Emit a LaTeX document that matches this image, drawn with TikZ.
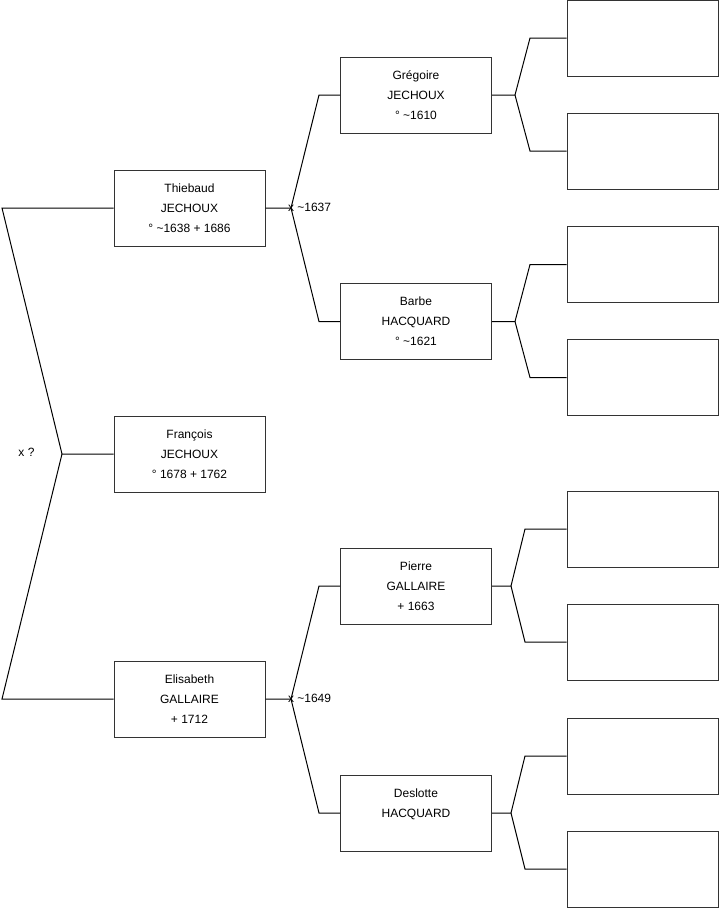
\documentclass[tikz,border=0pt]{standalone}
\usepackage{fontspec}
\setmainfont{Liberation Sans}
\begin{document}
\begin{tikzpicture}[x=0.75pt,y=-0.75pt,
  person/.style={draw=black!80, line width=0.75pt, fill=white,
    minimum width=113.25pt, minimum height=57pt, inner sep=0pt,
    align=center, font=\fontsize{9}{15}\selectfont},
  conn/.style={draw=black, line width=0.75pt},
  lbl/.style={inner sep=0pt, font=\fontsize{9}{11}\selectfont}]
\useasboundingbox (0,0) rectangle (719,908);

% generation 1-2
\node[person] (t) at (189.5,208) {Thiebaud\\JECHOUX\\° \textasciitilde1638 + 1686};
\node[person] (f) at (189.5,454) {François\\JECHOUX\\° 1678 + 1762};
\node[person] (e) at (189.5,699) {Elisabeth\\GALLAIRE\\+ 1712};
% generation 3
\node[person] (g) at (416,95) {Grégoire\\JECHOUX\\° \textasciitilde1610};
\node[person] (b) at (416,321.5) {Barbe\\HACQUARD\\° \textasciitilde1621};
\node[person] (p) at (416,586) {Pierre\\GALLAIRE\\+ 1663};
\node[person] (d) at (416,813) {Deslotte\\HACQUARD\\\vphantom{+ 1}};
% generation 4 (empty)
\node[person] (r1) at (642.5,38) {};
\node[person] (r2) at (642.5,151) {};
\node[person] (r3) at (642.5,264.5) {};
\node[person] (r4) at (642.5,377.5) {};
\node[person] (r5) at (642.5,529) {};
\node[person] (r6) at (642.5,642) {};
\node[person] (r7) at (642.5,756) {};
\node[person] (r8) at (642.5,869) {};

% junction coordinates
\coordinate (cT) at (2,208);
\coordinate (jL) at (62,454);
\coordinate (cE) at (2,699);

\coordinate (jT) at (291,208);
\coordinate (gT) at (319,95);
\coordinate (bT) at (319,321.5);

\coordinate (jE) at (291,699);
\coordinate (pE) at (319,586);
\coordinate (dE) at (319,813);

\coordinate (jG) at (515,95);
\coordinate (g1) at (530,38);
\coordinate (g2) at (530,151);

\coordinate (jB) at (515,321.5);
\coordinate (b1) at (530,264.5);
\coordinate (b2) at (530,377.5);

\coordinate (jP) at (511,586);
\coordinate (p1) at (525,529);
\coordinate (p2) at (525,642);

\coordinate (jD) at (511,813);
\coordinate (d1) at (525,756);
\coordinate (d2) at (525,869);

% connectors
\draw[conn] (t.west) -- (cT) -- (jL) -- (f.west);
\draw[conn] (jL) -- (cE) -- (e.west);

\draw[conn] (t.east) -- (jT) -- (gT) -- (g.west);
\draw[conn] (jT) -- (bT) -- (b.west);

\draw[conn] (e.east) -- (jE) -- (pE) -- (p.west);
\draw[conn] (jE) -- (dE) -- (d.west);

\draw[conn] (g.east) -- (jG) -- (g1) -- (r1.west);
\draw[conn] (jG) -- (g2) -- (r2.west);

\draw[conn] (b.east) -- (jB) -- (b1) -- (r3.west);
\draw[conn] (jB) -- (b2) -- (r4.west);

\draw[conn] (p.east) -- (jP) -- (p1) -- (r5.west);
\draw[conn] (jP) -- (p2) -- (r6.west);

\draw[conn] (d.east) -- (jD) -- (d1) -- (r7.west);
\draw[conn] (jD) -- (d2) -- (r8.west);

% marriage labels
\node[lbl, anchor=west] (m1) at (287.8,207.5) {x \textasciitilde1637};
\node[lbl, anchor=west] (m2) at (287.8,698.5) {x \textasciitilde1649};
\node[lbl] (m0) at (26.5,452) {x ?};
\end{tikzpicture}
\end{document}
